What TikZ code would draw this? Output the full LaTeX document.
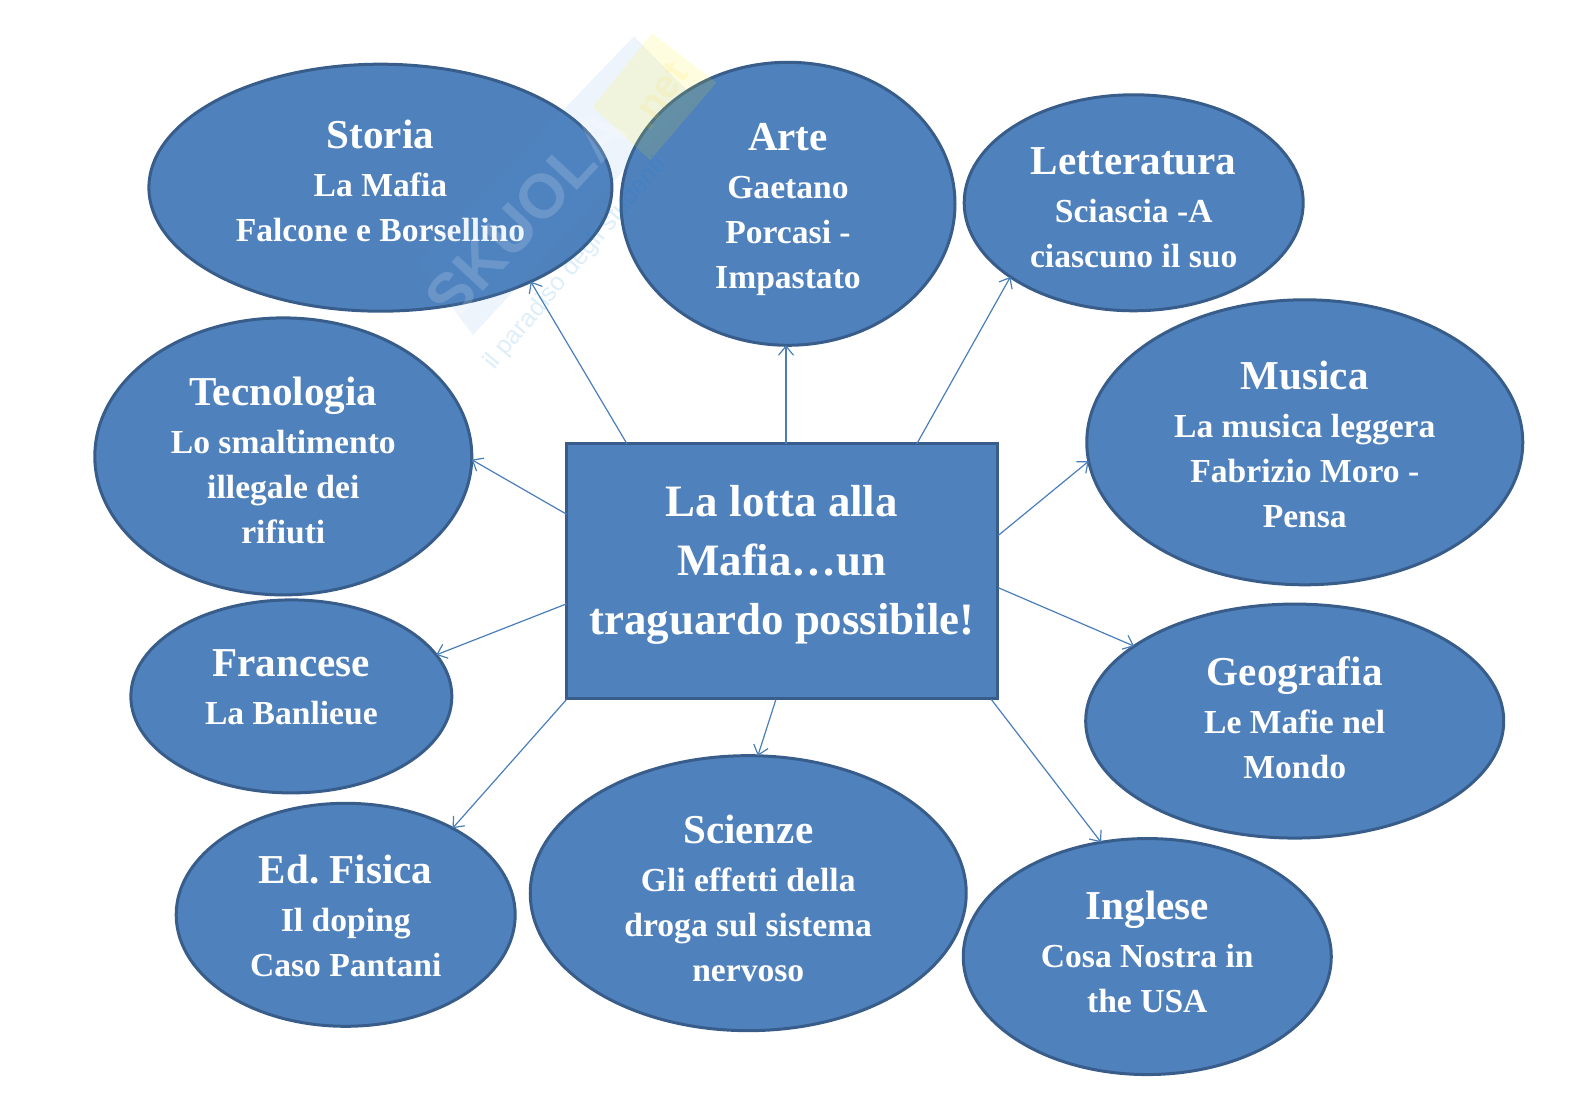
\documentclass[tikz,border=0pt]{standalone}
\usepackage{fontspec}
\setmainfont{Liberation Serif}[BoldFont={Liberation Serif Bold}]
\newfontfamily\wmfont{Liberation Sans}
\usetikzlibrary{shapes.geometric,arrows.meta,calc}
\definecolor{fillblue}{HTML}{4F81BD}
\definecolor{edgeblue}{HTML}{385D8A}
\definecolor{linkblue}{HTML}{4A7EBB}
\newcommand{\tl}[1]{{\fontsize{41.1}{48}\selectfont #1}}
\frenchspacing
\tikzset{
  bubble/.style={ellipse,draw=edgeblue,fill=fillblue,line width=3pt,inner sep=0pt,outer sep=0pt},
  bubbletext/.style={inner sep=0pt,text=white,align=center,font=\fontsize{33.6}{45}\selectfont\bfseries},
  mainbox/.style={rectangle,draw=edgeblue,fill=fillblue,line width=3pt,inner sep=0pt,outer sep=0pt},
  maintext/.style={inner sep=0pt,text=white,align=center,font=\fontsize{44.9}{59}\selectfont\bfseries},
  link/.style={draw=linkblue,line width=1.2pt,-{Straight Barb[length=9pt,width=15pt,line width=1.2pt]}},
}
\begin{document}
\begin{tikzpicture}[x=1.00638pt,y=-1.00638pt]
\useasboundingbox (0,0) rectangle (1568,1109);
\node[mainbox,minimum width=431pt,minimum height=255pt] (main) at (777,567.5) {};
\node[maintext] (maint) at ($(main)+(0,-6)$) {La lotta alla\\Mafia\ldots un\\traguardo possibile!};
\node[bubble,minimum width=463pt,minimum height=247pt] (storia) at (378,186.5) {};
\node[bubbletext] (storiat) at ($(storia)+(0,-6.5)$) {\tl{Storia}\\[3pt]La Mafia\\Falcone e Borsellino};
\node[bubble,minimum width=334pt,minimum height=283pt] (arte) at (783,202.5) {};
\node[bubbletext] (artet) at ($(arte)+(0,6)$) {\tl{Arte}\\[3pt]Gaetano\\Porcasi -\\Impastato};
\node[bubble,minimum width=339pt,minimum height=216pt] (lett) at (1126.5,201.5) {};
\node[bubbletext] (lettt) at ($(lett)+(0,5)$) {\tl{Letteratura}\\[3pt]Sciascia -A\\ciascuno il suo};
\node[bubble,minimum width=436pt,minimum height=285pt] (musica) at (1296.5,439.5) {};
\node[bubbletext] (musicat) at ($(musica)+(0,2)$) {\tl{Musica}\\[3pt]La musica leggera\\Fabrizio Moro -\\Pensa};
\node[bubble,minimum width=418pt,minimum height=234pt] (geo) at (1286.5,716.5) {};
\node[bubbletext] (geot) at ($(geo)+(0,-3.5)$) {\tl{Geografia}\\[3pt]Le Mafie nel\\Mondo};
\node[bubble,minimum width=368pt,minimum height=236pt] (inglese) at (1140,950.5) {};
\node[bubbletext] (ingleset) at ($(inglese)+(0,-4.5)$) {\tl{Inglese}\\[3pt]Cosa Nostra in\\the USA};
\node[bubble,minimum width=436pt,minimum height=275pt] (scienze) at (743.5,887.5) {};
\node[bubbletext] (scienzet) at ($(scienze)+(0,5.5)$) {\tl{Scienze}\\[3pt]Gli effetti della\\droga sul sistema\\nervoso};
\node[bubble,minimum width=339pt,minimum height=223pt] (fisica) at (343.5,909) {};
\node[bubbletext] (fisicat) at ($(fisica)+(0,1.5)$) {\tl{Ed. Fisica}\\[3pt]Il doping\\Caso Pantani};
\node[bubble,minimum width=321pt,minimum height=193pt] (francese) at (289.5,692) {};
\node[bubbletext] (franceset) at ($(francese)+(0,-9)$) {\tl{Francese}\\[3pt]La Banlieue};
\node[bubble,minimum width=377pt,minimum height=277pt] (tecno) at (281.5,453.5) {};
\node[bubbletext] (tecnot) at ($(tecno)+(0,4.5)$) {\tl{Tecnologia}\\[3pt]Lo smaltimento\\illegale dei\\rifiuti};
\coordinate (s1) at (623,441);
\coordinate (s2) at (781,441);
\coordinate (s3) at (911,441);
\coordinate (s4) at (992,532);
\coordinate (s5) at (992,584);
\coordinate (s6) at (985,695);
\coordinate (s7) at (771,695);
\coordinate (s8) at (563,695);
\coordinate (s9) at (563,600);
\coordinate (s10) at (563,511);
\draw[link] (s1) -- (storia.-32.6);
\draw[link] (s2) -- (s2 |- arte.south);
\draw[link] (s3) -- (lett.-149.5);
\draw[link] (s4) -- (musica.-175.6);
\draw[link] (s5) -- (geo.155);
\draw[link] (s6) -- (inglese.112.6);
\draw[link] (s7) -- (scienze.86.5);
\draw[link] (s8) -- (fisica.39.5);
\draw[link] (s9) -- (francese.16.5);
\draw[link] (s10) -- (tecno.-1);
% watermark
\fill[cyan!60!blue!70,opacity=.10] (415,260) -- (630,36) -- (688,95) -- (470,333) -- cycle;
\fill[yellow,opacity=.12] (648,33) -- (589,106) -- (646,159) -- (712,82) -- cycle;
\node[rotate=47,opacity=.16,text=white,font=\wmfont\bfseries\fontsize{62}{62}\selectfont,inner sep=0pt] (wmmark) at (523,213) {SKUOLA};
\node[rotate=50,opacity=.14,text=cyan!70!blue,font=\wmfont\fontsize{25}{25}\selectfont,inner sep=0pt] (wmtag) at (572,262) {il paradiso degli studenti};
\node[rotate=55,opacity=.10,text=yellow!70!orange,font=\wmfont\bfseries\fontsize{40}{40}\selectfont,inner sep=0pt] (wmnet) at (655,95) {.net};
\end{tikzpicture}
\end{document}
